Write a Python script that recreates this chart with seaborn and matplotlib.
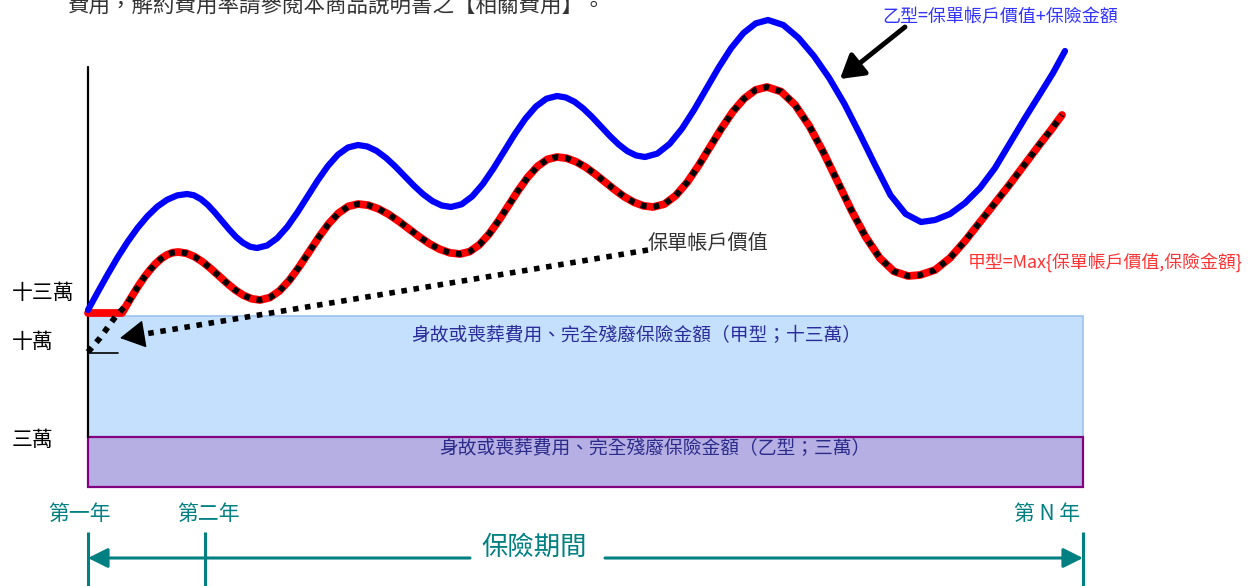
import matplotlib
matplotlib.use('Agg')
import matplotlib.pyplot as plt
import seaborn as sns
from matplotlib.patches import Rectangle

sns.set_style('white')
plt.rcParams['font.family'] = ['Noto Sans CJK TC', 'DejaVu Sans']

# schematic curves (x = policy time, y = height on the sheet, downwards)
blue_x = [88, 97.9, 107.8, 117.7, 127.6, 137.5, 147.4, 157.3, 167.2, 177.1, 187,
          194, 201, 208, 215, 222, 229, 236, 243, 250, 257,
          267.1, 277.2, 287.3, 297.4, 307.5, 317.6, 327.7, 337.8, 347.9, 358,
          367.3, 376.6, 385.9, 395.2, 404.5, 413.8, 423.1, 432.4, 441.7, 451,
          461.6, 472.2, 482.8, 493.4, 504, 514.6, 525.2, 535.8, 546.4, 557,
          565.8, 574.6, 583.4, 592.2, 601, 609.8, 618.6, 627.4, 636.2, 645,
          657.3, 669.6, 681.9, 694.2, 706.5, 718.8, 731.1, 743.4, 755.7, 768,
          783.3, 798.6, 813.9, 829.2, 844.5, 859.8, 875.1, 890.4, 905.7, 921,
          935, 950, 965, 980, 995, 1010, 1025, 1040, 1053, 1065]
blue_y = [310, 291.9, 274.2, 257.3, 241.8, 228, 216.2, 206.6, 199.7, 195.4, 194,
          195.3, 199.2, 205.1, 212.7, 221, 229.3, 236.9, 242.8, 246.7, 248,
          245.5, 238.2, 226.8, 212.4, 196.5, 180.6, 166.2, 154.8, 147.5, 145,
          146.5, 150.9, 157.8, 166.4, 176, 185.6, 194.2, 201.1, 205.5, 207,
          204.3, 196.4, 184.1, 168.6, 151.5, 134.4, 118.9, 106.6, 98.7, 96,
          97.5, 101.8, 108.6, 117.1, 126.5, 135.9, 144.4, 151.2, 155.5, 157,
          153.6, 143.9, 128.8, 109.7, 88.5, 67.3, 48.2, 33.1, 23.4, 20,
          25, 38, 56, 78, 104, 134, 165, 195, 214, 222,
          220, 214, 203, 188, 168, 143, 118, 94, 73, 51]

red_x = [88, 122, 127.6, 133.2, 138.8, 144.4, 150, 155.6, 161.2, 166.8, 172.4, 178,
         186.2, 194.4, 202.6, 210.8, 219, 227.2, 235.4, 243.6, 251.8, 260,
         269.8, 279.6, 289.4, 299.2, 309, 318.8, 328.6, 338.4, 348.2, 358,
         368.2, 378.4, 388.6, 398.8, 409, 419.2, 429.4, 439.6, 449.8, 460,
         469.7, 479.4, 489.1, 498.8, 508.5, 518.2, 527.9, 537.6, 547.3, 557,
         566.6, 576.2, 585.8, 595.4, 605, 614.6, 624.2, 633.8, 643.4, 653,
         664.4, 675.8, 687.2, 698.6, 710, 721.4, 732.8, 744.2, 755.6, 767,
         781.1, 795.2, 809.3, 823.4, 837.5, 851.6, 865.7, 879.8, 893.9, 908,
         920, 935, 950, 965, 980, 995, 1010, 1025, 1040, 1051, 1062]
red_y = [313, 313, 303.5, 294.2, 285.3, 277.1, 269.9, 263.7, 258.6, 255, 252.7, 252,
         253.2, 256.6, 261.9, 268.6, 276, 283.4, 290.1, 295.4, 298.8, 300,
         297.6, 290.8, 280.2, 266.8, 252, 237.2, 223.8, 213.2, 206.4, 204,
         205.2, 208.8, 214.3, 221.3, 229, 236.7, 243.7, 249.2, 252.8, 254,
         251.6, 244.7, 234, 220.5, 205.5, 190.5, 177, 166.3, 159.4, 157,
         158.2, 161.8, 167.3, 174.3, 182, 189.7, 196.7, 202.2, 205.8, 207,
         204.1, 195.5, 182.3, 165.5, 147, 128.5, 111.7, 98.5, 89.9, 87,
         91.6, 105, 126, 152.3, 181.5, 210.7, 237, 258, 271.4, 276,
         275, 270, 258, 241, 222, 203, 184, 164, 144, 130, 115]

# account value starts at 十萬 and then runs along 甲型
acct_x = [88, 100, 108, 116] + red_x[2:]
acct_y = [352, 338, 327, 316] + red_y[2:]

level_names = ['十三萬', '十萬', '三萬']
level_y = [293, 342, 440]
year_names = ['第一年', '第二年', '第 N 年']
year_x = [88, 205, 1083]
year_label_x = [79, 208, 1047]

teal = '#008080'

fig = plt.figure(figsize=(12.57, 5.86), dpi=100)
ax = fig.add_axes([0, 0, 1, 1])
ax.set_xlim(0, 1257)
ax.set_ylim(586, 0)
ax.axis('off')

# benefit bands
ax.add_patch(Rectangle((88, 316), 995, 121, facecolor='#C5E0FC', edgecolor='#9DC3EE', lw=1.2, zorder=1))
ax.add_patch(Rectangle((88, 437), 995, 50, facecolor='#B5AFE3', edgecolor='#800080', lw=1.6, zorder=2))
ax.text(636, 336, '身故或喪葬費用、完全殘廢保險金額（甲型；十三萬）', ha='center', va='center',
        fontsize=13.5, color='#2B2B9B', zorder=3)
ax.text(655, 449, '身故或喪葬費用、完全殘廢保險金額（乙型；三萬）', ha='center', va='center',
        fontsize=13.5, color='#2B2B8A', zorder=3)

# vertical axis and 十萬 tick
ax.plot([88, 88], [67, 437], color='black', lw=1.6, zorder=4)
ax.plot([88, 118], [353, 353], color='black', lw=1.2, zorder=4)

sns.lineplot(x=red_x, y=red_y, sort=False, estimator=None, color='#FF0000', linewidth=5.6,
             solid_joinstyle='round', ax=ax, zorder=5)
sns.lineplot(x=acct_x, y=acct_y, sort=False, estimator=None, color='black', linewidth=4.2,
             linestyle=(0, (1, 1.2)), ax=ax, zorder=6)
sns.lineplot(x=blue_x, y=blue_y, sort=False, estimator=None, color='#0000FF', linewidth=4.5,
             solid_joinstyle='round', ax=ax, zorder=5)

# dotted pointer to account value
ax.plot([648, 139], [250, 335], color='black', lw=4, linestyle=(0, (1, 1.2)), zorder=6)
ax.annotate('', xy=(120, 338), xytext=(140, 334.7),
            arrowprops=dict(arrowstyle='-|>,head_length=0.45,head_width=0.25', color='black', lw=1,
                            mutation_scale=36, shrinkA=0, shrinkB=0), zorder=7)
ax.text(648, 243, '保單帳戶價值', ha='left', va='center', fontsize=14.5, color='#333333')

# pointer to 乙型
ax.annotate('', xy=(840, 79), xytext=(905, 27),
            arrowprops=dict(arrowstyle='-|>,head_length=0.5,head_width=0.3', color='black', lw=3.5,
                            mutation_scale=28, shrinkA=0, shrinkB=0), zorder=7)
ax.text(882, 17, '乙型=保單帳戶價值+保險金額', ha='left', va='center', fontsize=13, color='#3333FF')
ax.text(968, 262, '甲型=Max{保單帳戶價值,保險金額}', ha='left', va='center', fontsize=12.9, color='#FF3333')

for name, y in zip(level_names, level_y):
    ax.text(12, y, name, ha='left', va='center', fontsize=15, color='black')

# insurance period
ax.vlines(year_x, 532, 586, color=teal, lw=2.2)
for name, x in zip(year_names, year_label_x):
    ax.text(x, 514, name, ha='center', va='center', fontsize=15, color=teal)
ax.annotate('', xy=(88, 558), xytext=(470, 558),
            arrowprops=dict(arrowstyle='-|>,head_length=0.6,head_width=0.3', color=teal, lw=2.2,
                            mutation_scale=20, shrinkA=0, shrinkB=0))
ax.annotate('', xy=(1083, 558), xytext=(605, 558),
            arrowprops=dict(arrowstyle='-|>,head_length=0.6,head_width=0.3', color=teal, lw=2.2,
                            mutation_scale=20, shrinkA=0, shrinkB=0))
ax.text(534, 547, '保險期間', ha='center', va='center', fontsize=19, color=teal)

ax.text(68, 17, '費用，解約費用率請參閱本商品說明書之【相關費用】。', ha='left', va='bottom',
        fontsize=15.5, color='#333333')

fig.savefig('out.png', dpi=100)
